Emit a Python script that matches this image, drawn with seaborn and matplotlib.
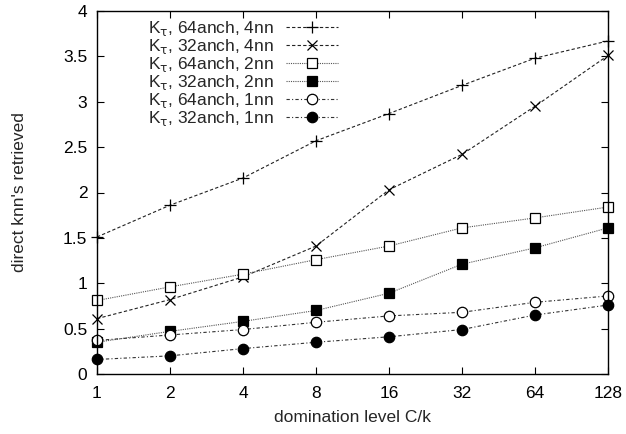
import matplotlib
matplotlib.use("Agg")
import matplotlib.pyplot as plt
import seaborn as sns
import pandas as pd

levels = [1, 2, 4, 8, 16, 32, 64, 128]
s64_4nn = [1.51, 1.86, 2.16, 2.57, 2.87, 3.18, 3.48, 3.67]
s32_4nn = [0.61, 0.82, 1.07, 1.41, 2.03, 2.42, 2.95, 3.51]
s64_2nn = [0.81, 0.96, 1.10, 1.26, 1.41, 1.61, 1.72, 1.84]
s32_2nn = [0.35, 0.47, 0.58, 0.70, 0.89, 1.21, 1.39, 1.61]
s64_1nn = [0.37, 0.43, 0.49, 0.57, 0.64, 0.68, 0.79, 0.86]
s32_1nn = [0.16, 0.20, 0.28, 0.35, 0.41, 0.49, 0.65, 0.76]
labels = [r"K$_\mathrm{\tau}$, 64anch, 4nn", r"K$_\mathrm{\tau}$, 32anch, 4nn",
          r"K$_\mathrm{\tau}$, 64anch, 2nn", r"K$_\mathrm{\tau}$, 32anch, 2nn",
          r"K$_\mathrm{\tau}$, 64anch, 1nn", r"K$_\mathrm{\tau}$, 32anch, 1nn"]
series = [s64_4nn, s32_4nn, s64_2nn, s32_2nn, s64_1nn, s32_1nn]

sns.set_style("ticks")
plt.rcParams['font.family'] = ['Liberation Sans', 'DejaVu Sans']
plt.rcParams['mathtext.fontset'] = 'custom'
plt.rcParams['mathtext.rm'] = 'DejaVu Sans'
plt.rcParams['mathtext.it'] = 'DejaVu Sans:italic'

FS = 12.5
fig = plt.figure(figsize=(6.26, 4.34), dpi=100)
ax = fig.add_axes([97/626, 60/434, 511/626, 363/434])

styles = [
    dict(ls=(0, (3, 2)), marker='+', ms=9, mfc='none'),
    dict(ls=(0, (3, 2)), marker='x', ms=7.5, mfc='none'),
    dict(ls=(0, (1, 1)), marker='s', ms=7.5, mfc='white'),
    dict(ls=(0, (1, 1)), marker='s', ms=7.5, mfc='black'),
    dict(ls=(0, (3, 2, 1, 2)), marker='o', ms=7.5, mfc='white'),
    dict(ls=(0, (3, 2, 1, 2)), marker='o', ms=7.5, mfc='black'),
]
linecolors = ['#222222', '#222222', '#555555', '#555555', '#333333', '#333333']

for vals, lab, st, lc in zip(series, labels, styles, linecolors):
    df = pd.DataFrame({'x': levels, 'y': vals})
    sns.lineplot(data=df, x='x', y='y', ax=ax, label=lab, color=lc,
                 linestyle=st['ls'], linewidth=0.8, marker=st['marker'],
                 markersize=st['ms'], markerfacecolor=st['mfc'],
                 markeredgecolor='black', markeredgewidth=0.9, clip_on=False)

ax.set_xscale('log', base=2)
ax.set_xlim(1, 128)
ax.set_ylim(0, 4)
ax.set_xticks(levels)
ax.set_xticklabels([str(v) for v in levels])
ax.minorticks_off()
ax.set_yticks([0, 0.5, 1, 1.5, 2, 2.5, 3, 3.5, 4])
ax.set_yticklabels(['0', '0.5', '1', '1.5', '2', '2.5', '3', '3.5', '4'])
ax.tick_params(direction='in', length=5, width=0.8, top=True, right=True,
               labelsize=FS, colors='black')
ax.tick_params(axis='x', pad=9)
ax.tick_params(axis='y', pad=7)
for sp in ax.spines.values():
    sp.set_visible(True)
    sp.set_linewidth(1.0)
    sp.set_color('black')
ax.set_xlabel("domination level C/k", fontsize=FS, labelpad=6)
ax.set_ylabel("direct knn's retrieved", fontsize=FS, labelpad=26)

leg = ax.legend(loc='upper right', bbox_to_anchor=((338 - 97) / 511 + 0.015, 1.0),
                frameon=False, markerfirst=False, fontsize=FS, handlelength=3.0,
                handletextpad=0.7, labelspacing=-0.05, borderaxespad=0.25,
                borderpad=0.2)

fig.savefig("out.png", dpi=100)
